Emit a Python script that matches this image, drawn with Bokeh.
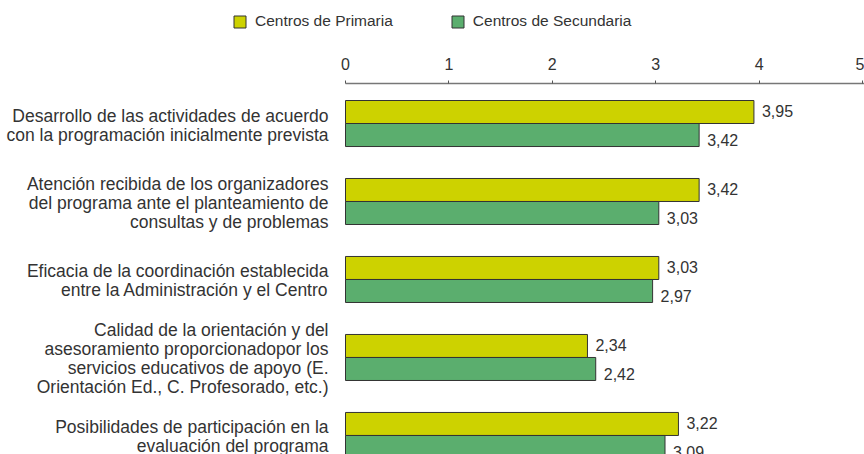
from bokeh.plotting import figure
from bokeh.layouts import column
from bokeh.models import ColumnDataSource, Range1d, FixedTicker, Legend, LegendItem
from bokeh.transform import dodge
from bokeh.embed import file_html
from bokeh.resources import INLINE
from bokeh.core.properties import value

categories = [
    "Desarrollo de las actividades de acuerdo\ncon la programación inicialmente prevista",
    "Atención recibida de los organizadores\ndel programa ante el planteamiento de\nconsultas y de problemas",
    "Eficacia de la coordinación establecida\nentre la Administración y el Centro",
    "Calidad de la orientación y del\nasesoramiento proporcionadopor los\nservicios educativos de apoyo (E.\nOrientación Ed., C. Profesorado, etc.)",
    "Posibilidades de participación en la\nevaluación del programa",
]
primaria = [3.95, 3.42, 3.03, 2.34, 3.22]
secundaria = [3.42, 3.03, 2.97, 2.42, 3.09]
series_names = ["Centros de Primaria", "Centros de Secundaria"]
x_ticks = [0, 1, 2, 3, 4, 5]

FONT = "Liberation Sans"
TXT = "#333333"
YELLOW = "#CDD200"
GREEN = "#5BAE6E"
EDGE = "#333333"

W = 864
PX_PER_UNIT = 103.4
X0_PX = 345
X_START = -X0_PX / PX_PER_UNIT
X_END = (W - X0_PX) / PX_PER_UNIT

idx = list(range(len(categories)))
fmt = lambda v: f"{v:.2f}".replace(".", ",")
src = ColumnDataSource(dict(
    idx=idx,
    cat=categories,
    zero=[0] * len(idx),
    prim=primaria,
    sec=secundaria,
    prim_lbl=[fmt(v) for v in primaria],
    sec_lbl=[fmt(v) for v in secundaria],
))

# ---- legend strip ----
lf = figure(width=W, height=40, output_backend="svg", toolbar_location=None,
            x_range=Range1d(0, 1), y_range=Range1d(0, 1),
            x_axis_location=None, y_axis_location=None,
            min_border=0, min_border_left=0, min_border_right=0,
            min_border_top=0, min_border_bottom=0)
lf.grid.visible = False
lf.outline_line_color = None
d1 = lf.hbar(y=[5], right=[5], left=[4], height=0.5, fill_color=YELLOW, line_color=EDGE)
d2 = lf.hbar(y=[5], right=[5], left=[4], height=0.5, fill_color=GREEN, line_color=EDGE)
legend = Legend(items=[LegendItem(label=series_names[0], renderers=[d1]),
                       LegendItem(label=series_names[1], renderers=[d2])],
                orientation="horizontal", location=(232, 10),
                glyph_width=15, glyph_height=15, label_standoff=8, spacing=57,
                padding=0, margin=0, border_line_color=None,
                background_fill_alpha=0, label_text_font=FONT,
                label_text_font_size="15.5px", label_text_color=TXT)
lf.add_layout(legend, "center")

# ---- main chart ----
p = figure(width=W, height=414, output_backend="svg", toolbar_location=None,
           x_axis_location="above", y_axis_location=None,
           x_range=Range1d(X_START, X_END), y_range=Range1d(4.244, -0.513),
           min_border_left=0, min_border_right=0, min_border_top=43,
           min_border_bottom=0)
p.outline_line_color = None
p.grid.visible = False

off = 0.1475
bh = 0.295
p.hbar(y=dodge("idx", -off, range=p.y_range), right="prim", left=0, height=bh,
       source=src, fill_color=YELLOW, line_color=EDGE, line_width=1)
p.hbar(y=dodge("idx", off, range=p.y_range), right="sec", left=0, height=bh,
       source=src, fill_color=GREEN, line_color=EDGE, line_width=1)

p.text(x="prim", y=dodge("idx", -off, range=p.y_range), text="prim_lbl", source=src,
       x_offset=8, y_offset=-1, text_baseline="middle", text_align="left",
       text_font=value(FONT), text_font_size="16px", text_color=TXT)
p.text(x="sec", y=dodge("idx", off, range=p.y_range), text="sec_lbl", source=src,
       x_offset=8, y_offset=5, text_baseline="middle", text_align="left",
       text_font=value(FONT), text_font_size="16px", text_color=TXT)

# category labels (right-aligned, multi-line) left of the bars
p.text(x="zero", y="idx", text="cat", source=src,
       x_offset=-17, y_offset=1.5, text_baseline="middle", text_align="right",
       text_font=value(FONT), text_font_size="17.5px", text_line_height=0.95,
       text_color=TXT)

xa = p.xaxis[0]
xa.ticker = FixedTicker(ticks=x_ticks)
xa.bounds = (0, X_END)
xa.axis_line_color = "#777777"
xa.axis_line_width = 1.5
xa.major_tick_line_color = "#555555"
xa.major_tick_in = 0
xa.major_tick_out = 3
xa.minor_tick_line_color = None
xa.major_label_standoff = 11
xa.major_label_text_font = FONT
xa.major_label_text_font_size = "16px"
xa.major_label_text_color = TXT

layout = column(lf, p, spacing=0)
open("out.html", "w").write(file_html(layout, INLINE))
